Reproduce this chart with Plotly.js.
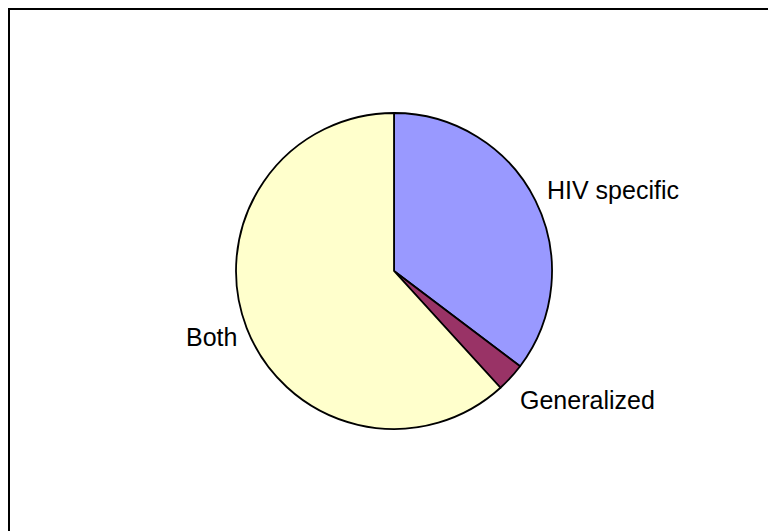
<!DOCTYPE html>
<html>
<head>
<meta charset="utf-8">
<script src="https://cdn.plot.ly/plotly-3.0.1.min.js"></script>
<style>html,body{margin:0;padding:0;background:#fff;}#chart{width:768px;height:531px;}</style>
</head>
<body>
<div id="chart"></div>
<script>
const categories = ["HIV specific", "Generalized", "Both"];
const values = [12, 1, 21];
const colors = ["#9999FF", "#993366", "#FFFFCC"];

const FONT = { family: "Liberation Sans, Arial, sans-serif", size: 25, color: "#000000" };

const trace = {
  type: "pie",
  labels: categories,
  values: values,
  sort: false,
  direction: "clockwise",
  rotation: 0,
  marker: { colors: colors, line: { color: "#000000", width: 1.8 } },
  textinfo: "none",
  domain: { x: [0.3073, 0.7188], y: [0.1921, 0.7872] },
  hoverinfo: "none",
  automargin: false
};

// label placement (paper px from top-left) for each category
const labelPos = [
  { x: 545, y: 190, anchor: "left" },
  { x: 518, y: 400, anchor: "left" },
  { x: 239, y: 337, anchor: "right" }
];

const annotations = categories.map((c, i) => ({
  xref: "paper", yref: "paper",
  x: labelPos[i].x / 768,
  y: 1 - labelPos[i].y / 531,
  xanchor: labelPos[i].anchor,
  yanchor: "middle",
  text: c,
  showarrow: false,
  font: FONT
}));

const layout = {
  width: 768,
  height: 531,
  margin: { l: 0, r: 0, t: 0, b: 0 },
  paper_bgcolor: "#ffffff",
  showlegend: false,
  annotations: annotations,
  shapes: [{
    type: "rect", xref: "paper", yref: "paper",
    x0: 9 / 768, x1: 1.05, y0: -0.05, y1: 1 - 9 / 531,
    line: { color: "#000000", width: 2 }
  }]
};

Plotly.newPlot("chart", [trace], layout, { staticPlot: true });
</script>
</body>
</html>
